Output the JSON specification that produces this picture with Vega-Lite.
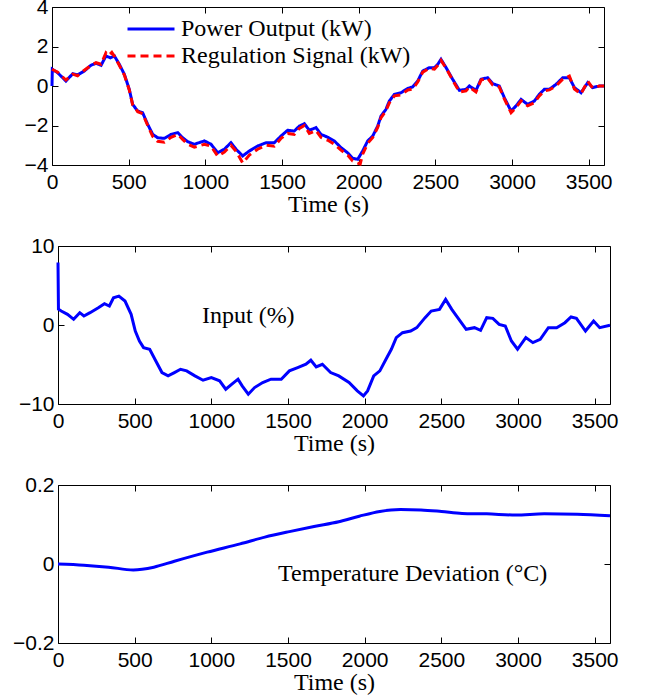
{
  "$schema": "https://vega.github.io/schema/vega-lite/v6.json",
  "background": "white",
  "padding": {"left": 0, "top": -5, "right": 0, "bottom": 0},
  "spacing": 17,
  "config": {
    "view": {"stroke": "black", "strokeWidth": 1},
    "axis": {
      "labelFont": "Liberation Sans", "labelFontSize": 21, "labelColor": "black",
      "titleFont": "Liberation Serif", "titleFontSize": 24, "titleFontWeight": "normal", "titleColor": "black",
      "grid": false, "domain": false, "tickColor": "black", "tickSize": -6, "tickWidth": 1, "labelFlush": false
    },
    "axisX": {"labelPadding": 12, "titlePadding": 0, "format": "d"},
    "axisY": {"labelPadding": 10},
    "line": {"strokeCap": "butt"}
  },
  "datasets": {
    "power": [
      {"t":0,"series":"Power Output (kW)","v":0},{"t":2,"series":"Power Output (kW)","v":0.85},{"t":37,"series":"Power Output (kW)","v":0.67},{"t":91,"series":"Power Output (kW)","v":0.25},{"t":135,"series":"Power Output (kW)","v":0.62},{"t":167,"series":"Power Output (kW)","v":0.56},{"t":211,"series":"Power Output (kW)","v":0.76},{"t":254,"series":"Power Output (kW)","v":1.05},{"t":287,"series":"Power Output (kW)","v":1.15},{"t":320,"series":"Power Output (kW)","v":1.05},{"t":352,"series":"Power Output (kW)","v":1.52},{"t":381,"series":"Power Output (kW)","v":1.43},{"t":407,"series":"Power Output (kW)","v":1.52},{"t":439,"series":"Power Output (kW)","v":1.10},{"t":472,"series":"Power Output (kW)","v":0.59},{"t":504,"series":"Power Output (kW)","v":-0.17},{"t":526,"series":"Power Output (kW)","v":-0.93},{"t":559,"series":"Power Output (kW)","v":-1.27},{"t":591,"series":"Power Output (kW)","v":-1.35},{"t":624,"series":"Power Output (kW)","v":-1.94},{"t":657,"series":"Power Output (kW)","v":-2.45},{"t":689,"series":"Power Output (kW)","v":-2.62},{"t":733,"series":"Power Output (kW)","v":-2.65},{"t":776,"series":"Power Output (kW)","v":-2.45},{"t":820,"series":"Power Output (kW)","v":-2.36},{"t":852,"series":"Power Output (kW)","v":-2.62},{"t":885,"series":"Power Output (kW)","v":-2.82},{"t":928,"series":"Power Output (kW)","v":-2.95},{"t":994,"series":"Power Output (kW)","v":-2.78},{"t":1037,"series":"Power Output (kW)","v":-2.95},{"t":1081,"series":"Power Output (kW)","v":-3.38},{"t":1124,"series":"Power Output (kW)","v":-3.2},{"t":1167,"series":"Power Output (kW)","v":-2.87},{"t":1200,"series":"Power Output (kW)","v":-3.2},{"t":1244,"series":"Power Output (kW)","v":-3.54},{"t":1287,"series":"Power Output (kW)","v":-3.29},{"t":1341,"series":"Power Output (kW)","v":-3.04},{"t":1396,"series":"Power Output (kW)","v":-2.87},{"t":1450,"series":"Power Output (kW)","v":-2.87},{"t":1494,"series":"Power Output (kW)","v":-2.53},{"t":1537,"series":"Power Output (kW)","v":-2.24},{"t":1580,"series":"Power Output (kW)","v":-2.28},{"t":1613,"series":"Power Output (kW)","v":-2.03},{"t":1646,"series":"Power Output (kW)","v":-1.91},{"t":1678,"series":"Power Output (kW)","v":-2.24},{"t":1722,"series":"Power Output (kW)","v":-2.11},{"t":1754,"series":"Power Output (kW)","v":-2.45},{"t":1800,"series":"Power Output (kW)","v":-2.6},{"t":1841,"series":"Power Output (kW)","v":-2.78},{"t":1885,"series":"Power Output (kW)","v":-3.12},{"t":1928,"series":"Power Output (kW)","v":-3.38},{"t":1961,"series":"Power Output (kW)","v":-3.66},{"t":1994,"series":"Power Output (kW)","v":-3.71},{"t":2026,"series":"Power Output (kW)","v":-3.29},{"t":2059,"series":"Power Output (kW)","v":-2.78},{"t":2092,"series":"Power Output (kW)","v":-2.53},{"t":2124,"series":"Power Output (kW)","v":-2.03},{"t":2146,"series":"Power Output (kW)","v":-1.52},{"t":2178,"series":"Power Output (kW)","v":-1.18},{"t":2200,"series":"Power Output (kW)","v":-0.76},{"t":2233,"series":"Power Output (kW)","v":-0.42},{"t":2276,"series":"Power Output (kW)","v":-0.34},{"t":2320,"series":"Power Output (kW)","v":-0.12},{"t":2352,"series":"Power Output (kW)","v":-0.05},{"t":2385,"series":"Power Output (kW)","v":0.25},{"t":2418,"series":"Power Output (kW)","v":0.76},{"t":2461,"series":"Power Output (kW)","v":0.93},{"t":2494,"series":"Power Output (kW)","v":0.93},{"t":2516,"series":"Power Output (kW)","v":1.10},{"t":2537,"series":"Power Output (kW)","v":1.35},{"t":2570,"series":"Power Output (kW)","v":0.93},{"t":2613,"series":"Power Output (kW)","v":0.34},{"t":2657,"series":"Power Output (kW)","v":-0.22},{"t":2700,"series":"Power Output (kW)","v":-0.17},{"t":2722,"series":"Power Output (kW)","v":0},{"t":2765,"series":"Power Output (kW)","v":-0.22},{"t":2798,"series":"Power Output (kW)","v":0.34},{"t":2841,"series":"Power Output (kW)","v":0.42},{"t":2874,"series":"Power Output (kW)","v":0.12},{"t":2917,"series":"Power Output (kW)","v":0},{"t":2950,"series":"Power Output (kW)","v":-0.59},{"t":2994,"series":"Power Output (kW)","v":-1.27},{"t":3026,"series":"Power Output (kW)","v":-1.01},{"t":3059,"series":"Power Output (kW)","v":-0.68},{"t":3102,"series":"Power Output (kW)","v":-0.93},{"t":3146,"series":"Power Output (kW)","v":-0.76},{"t":3178,"series":"Power Output (kW)","v":-0.42},{"t":3211,"series":"Power Output (kW)","v":-0.17},{"t":3243,"series":"Power Output (kW)","v":-0.17},{"t":3287,"series":"Power Output (kW)","v":0.08},{"t":3331,"series":"Power Output (kW)","v":0.42},{"t":3374,"series":"Power Output (kW)","v":0.42},{"t":3407,"series":"Power Output (kW)","v":-0.08},{"t":3450,"series":"Power Output (kW)","v":-0.34},{"t":3494,"series":"Power Output (kW)","v":0.17},{"t":3526,"series":"Power Output (kW)","v":-0.08},{"t":3570,"series":"Power Output (kW)","v":0},{"t":3600,"series":"Power Output (kW)","v":0},
      {"t":0,"series":"Regulation Signal (kW)","v":0.85},{"t":37,"series":"Regulation Signal (kW)","v":0.7},{"t":91,"series":"Regulation Signal (kW)","v":0.3},{"t":135,"series":"Regulation Signal (kW)","v":0.6},{"t":167,"series":"Regulation Signal (kW)","v":0.52},{"t":211,"series":"Regulation Signal (kW)","v":0.8},{"t":254,"series":"Regulation Signal (kW)","v":1.05},{"t":287,"series":"Regulation Signal (kW)","v":1.18},{"t":320,"series":"Regulation Signal (kW)","v":1.1},{"t":352,"series":"Regulation Signal (kW)","v":1.68},{"t":370,"series":"Regulation Signal (kW)","v":1.55},{"t":390,"series":"Regulation Signal (kW)","v":1.7},{"t":407,"series":"Regulation Signal (kW)","v":1.5},{"t":439,"series":"Regulation Signal (kW)","v":1.05},{"t":472,"series":"Regulation Signal (kW)","v":0.55},{"t":504,"series":"Regulation Signal (kW)","v":-0.2},{"t":526,"series":"Regulation Signal (kW)","v":-0.95},{"t":559,"series":"Regulation Signal (kW)","v":-1.3},{"t":591,"series":"Regulation Signal (kW)","v":-1.4},{"t":624,"series":"Regulation Signal (kW)","v":-2.0},{"t":657,"series":"Regulation Signal (kW)","v":-2.55},{"t":689,"series":"Regulation Signal (kW)","v":-2.8},{"t":733,"series":"Regulation Signal (kW)","v":-2.85},{"t":776,"series":"Regulation Signal (kW)","v":-2.6},{"t":820,"series":"Regulation Signal (kW)","v":-2.45},{"t":852,"series":"Regulation Signal (kW)","v":-2.7},{"t":885,"series":"Regulation Signal (kW)","v":-2.95},{"t":928,"series":"Regulation Signal (kW)","v":-3.1},{"t":994,"series":"Regulation Signal (kW)","v":-2.95},{"t":1037,"series":"Regulation Signal (kW)","v":-3.05},{"t":1081,"series":"Regulation Signal (kW)","v":-3.55},{"t":1124,"series":"Regulation Signal (kW)","v":-3.35},{"t":1167,"series":"Regulation Signal (kW)","v":-3.0},{"t":1200,"series":"Regulation Signal (kW)","v":-3.3},{"t":1244,"series":"Regulation Signal (kW)","v":-3.9},{"t":1287,"series":"Regulation Signal (kW)","v":-3.5},{"t":1341,"series":"Regulation Signal (kW)","v":-3.2},{"t":1396,"series":"Regulation Signal (kW)","v":-3.0},{"t":1450,"series":"Regulation Signal (kW)","v":-3.05},{"t":1494,"series":"Regulation Signal (kW)","v":-2.65},{"t":1537,"series":"Regulation Signal (kW)","v":-2.4},{"t":1580,"series":"Regulation Signal (kW)","v":-2.45},{"t":1613,"series":"Regulation Signal (kW)","v":-2.15},{"t":1646,"series":"Regulation Signal (kW)","v":-2.0},{"t":1678,"series":"Regulation Signal (kW)","v":-2.4},{"t":1722,"series":"Regulation Signal (kW)","v":-2.25},{"t":1754,"series":"Regulation Signal (kW)","v":-2.6},{"t":1800,"series":"Regulation Signal (kW)","v":-2.75},{"t":1841,"series":"Regulation Signal (kW)","v":-2.95},{"t":1885,"series":"Regulation Signal (kW)","v":-3.25},{"t":1928,"series":"Regulation Signal (kW)","v":-3.5},{"t":1961,"series":"Regulation Signal (kW)","v":-3.8},{"t":1994,"series":"Regulation Signal (kW)","v":-3.9},{"t":2010,"series":"Regulation Signal (kW)","v":-3.95},{"t":2026,"series":"Regulation Signal (kW)","v":-3.45},{"t":2059,"series":"Regulation Signal (kW)","v":-2.9},{"t":2092,"series":"Regulation Signal (kW)","v":-2.6},{"t":2124,"series":"Regulation Signal (kW)","v":-2.1},{"t":2146,"series":"Regulation Signal (kW)","v":-1.6},{"t":2178,"series":"Regulation Signal (kW)","v":-1.25},{"t":2200,"series":"Regulation Signal (kW)","v":-0.85},{"t":2233,"series":"Regulation Signal (kW)","v":-0.5},{"t":2276,"series":"Regulation Signal (kW)","v":-0.45},{"t":2320,"series":"Regulation Signal (kW)","v":-0.2},{"t":2352,"series":"Regulation Signal (kW)","v":-0.15},{"t":2385,"series":"Regulation Signal (kW)","v":0.2},{"t":2418,"series":"Regulation Signal (kW)","v":0.7},{"t":2461,"series":"Regulation Signal (kW)","v":0.9},{"t":2494,"series":"Regulation Signal (kW)","v":0.85},{"t":2516,"series":"Regulation Signal (kW)","v":1.05},{"t":2537,"series":"Regulation Signal (kW)","v":1.3},{"t":2570,"series":"Regulation Signal (kW)","v":0.9},{"t":2613,"series":"Regulation Signal (kW)","v":0.3},{"t":2657,"series":"Regulation Signal (kW)","v":-0.3},{"t":2700,"series":"Regulation Signal (kW)","v":-0.25},{"t":2722,"series":"Regulation Signal (kW)","v":-0.05},{"t":2765,"series":"Regulation Signal (kW)","v":-0.3},{"t":2798,"series":"Regulation Signal (kW)","v":0.3},{"t":2841,"series":"Regulation Signal (kW)","v":0.4},{"t":2874,"series":"Regulation Signal (kW)","v":0.05},{"t":2917,"series":"Regulation Signal (kW)","v":-0.05},{"t":2950,"series":"Regulation Signal (kW)","v":-0.65},{"t":2994,"series":"Regulation Signal (kW)","v":-1.35},{"t":3026,"series":"Regulation Signal (kW)","v":-1.1},{"t":3059,"series":"Regulation Signal (kW)","v":-0.75},{"t":3102,"series":"Regulation Signal (kW)","v":-1.0},{"t":3146,"series":"Regulation Signal (kW)","v":-0.85},{"t":3178,"series":"Regulation Signal (kW)","v":-0.5},{"t":3211,"series":"Regulation Signal (kW)","v":-0.25},{"t":3243,"series":"Regulation Signal (kW)","v":-0.2},{"t":3287,"series":"Regulation Signal (kW)","v":0.0},{"t":3331,"series":"Regulation Signal (kW)","v":0.35},{"t":3374,"series":"Regulation Signal (kW)","v":0.5},{"t":3407,"series":"Regulation Signal (kW)","v":-0.15},{"t":3450,"series":"Regulation Signal (kW)","v":-0.4},{"t":3494,"series":"Regulation Signal (kW)","v":0.25},{"t":3526,"series":"Regulation Signal (kW)","v":-0.1},{"t":3570,"series":"Regulation Signal (kW)","v":0.0},{"t":3600,"series":"Regulation Signal (kW)","v":0.0}
    ],
    "input": [
      {"t":0,"v":7.9},{"t":3,"v":2.0},{"t":21,"v":1.77},{"t":62,"v":1.35},{"t":102,"v":0.72},{"t":142,"v":1.56},{"t":169,"v":1.14},{"t":209,"v":1.56},{"t":263,"v":2.19},{"t":303,"v":2.69},{"t":335,"v":2.4},{"t":362,"v":3.45},{"t":397,"v":3.66},{"t":437,"v":3.03},{"t":477,"v":1.35},{"t":504,"v":-0.76},{"t":531,"v":-2.02},{"t":558,"v":-2.86},{"t":598,"v":-3.07},{"t":638,"v":-4.55},{"t":678,"v":-6.02},{"t":718,"v":-6.44},{"t":759,"v":-6.02},{"t":799,"v":-5.6},{"t":839,"v":-5.81},{"t":893,"v":-6.44},{"t":946,"v":-6.99},{"t":1000,"v":-6.65},{"t":1054,"v":-7.07},{"t":1094,"v":-8.13},{"t":1134,"v":-7.49},{"t":1174,"v":-6.86},{"t":1201,"v":-7.71},{"t":1241,"v":-8.76},{"t":1282,"v":-7.92},{"t":1335,"v":-7.28},{"t":1389,"v":-6.86},{"t":1456,"v":-6.86},{"t":1509,"v":-5.81},{"t":1563,"v":-5.39},{"t":1617,"v":-4.97},{"t":1649,"v":-4.46},{"t":1684,"v":-5.31},{"t":1724,"v":-4.97},{"t":1778,"v":-6.02},{"t":1831,"v":-6.44},{"t":1898,"v":-7.28},{"t":1952,"v":-8.34},{"t":1992,"v":-8.97},{"t":2019,"v":-8.34},{"t":2059,"v":-6.44},{"t":2099,"v":-5.81},{"t":2139,"v":-4.34},{"t":2174,"v":-3.07},{"t":2206,"v":-1.6},{"t":2247,"v":-0.97},{"t":2300,"v":-0.76},{"t":2340,"v":-0.34},{"t":2394,"v":0.93},{"t":2434,"v":1.77},{"t":2488,"v":1.98},{"t":2528,"v":3.24},{"t":2568,"v":1.98},{"t":2622,"v":0.51},{"t":2662,"v":-0.55},{"t":2716,"v":-0.34},{"t":2756,"v":-0.67},{"t":2796,"v":0.93},{"t":2836,"v":0.84},{"t":2877,"v":0.08},{"t":2917,"v":-0.13},{"t":2957,"v":-2.02},{"t":2997,"v":-3.07},{"t":3051,"v":-1.6},{"t":3097,"v":-2.23},{"t":3145,"v":-1.81},{"t":3198,"v":-0.34},{"t":3252,"v":-0.34},{"t":3306,"v":0.29},{"t":3346,"v":1.01},{"t":3381,"v":0.84},{"t":3440,"v":-0.76},{"t":3493,"v":0.51},{"t":3533,"v":-0.34},{"t":3600,"v":-0.04}
    ],
    "temp": [
      {"t":0,"v":0},{"t":169,"v":-0.003},{"t":330,"v":-0.008},{"t":491,"v":-0.015},{"t":625,"v":-0.008},{"t":759,"v":0.007},{"t":973,"v":0.030},{"t":1188,"v":0.051},{"t":1349,"v":0.068},{"t":1509,"v":0.082},{"t":1670,"v":0.095},{"t":1831,"v":0.107},{"t":1965,"v":0.121},{"t":2099,"v":0.133},{"t":2233,"v":0.138},{"t":2367,"v":0.137},{"t":2501,"v":0.133},{"t":2635,"v":0.128},{"t":2796,"v":0.127},{"t":2984,"v":0.124},{"t":3171,"v":0.127},{"t":3386,"v":0.126},{"t":3600,"v":0.122}
    ],
    "blank": [{"k": 0}]
  },
  "vconcat": [
    {
      "width": 552, "height": 158,
      "data": {"name": "power"},
      "layer": [
        {
          "mark": {"type": "line", "strokeWidth": 3},
          "encoding": {
            "x": {"field": "t", "type": "quantitative", "scale": {"domain": [0, 3600], "nice": false},
                  "axis": {"values": [0,500,1000,1500,2000,2500,3000,3500], "title": "Time (s)"}},
            "y": {"field": "v", "type": "quantitative", "scale": {"domain": [-4, 4], "nice": false},
                  "axis": {"values": [-4,-2,0,2,4], "title": null, "minExtent": 51, "maxExtent": 51}},
            "color": {"field": "series", "type": "nominal",
                      "scale": {"domain": ["Power Output (kW)", "Regulation Signal (kW)"], "range": ["#0000ff", "#ff0000"]},
                      "legend": {"orient": "none", "legendX": 87, "legendY": 10, "title": null, "symbolType": "M-2.35,0H2.35", "symbolSize": 400, "symbolStrokeWidth": 3, "symbolFillColor": "transparent", "labelFont": "Liberation Serif", "labelFontSize": 24, "labelColor": "black", "labelOffset": 18, "labelLimit": 0, "rowPadding": 3, "padding": 0}},
            "strokeDash": {"field": "series", "type": "nominal",
                      "scale": {"domain": ["Power Output (kW)", "Regulation Signal (kW)"], "range": [[1, 0], [8, 5]]},
                      "legend": {"orient": "none", "legendX": 87, "legendY": 10, "title": null, "symbolType": "M-2.35,0H2.35", "symbolSize": 400, "symbolStrokeWidth": 3, "symbolFillColor": "transparent", "labelFont": "Liberation Serif", "labelFontSize": 24, "labelColor": "black", "labelOffset": 18, "labelLimit": 0, "rowPadding": 3, "padding": 0}}
          }
        },
        {
          "mark": {"type": "line", "opacity": 0},
          "encoding": {
            "x": {"field": "t", "type": "quantitative", "axis": {"orient": "top", "values": [0,500,1000,1500,2000,2500,3000,3500], "labels": false, "title": null}},
            "y": {"field": "v", "type": "quantitative", "axis": {"orient": "right", "values": [-4,-2,0,2,4], "labels": false, "title": null}}
          }
        }
      ],
      "resolve": {"axis": {"x": "independent", "y": "independent"}}
    },
    {"hconcat": [
    {
      "width": 6, "height": 158, "view": {"stroke": null},
      "data": {"name": "blank"},
      "mark": {"type": "point", "opacity": 0},
      "encoding": {}
    },
    {
      "width": 552, "height": 158,
      "layer": [
        {
          "data": {"name": "input"},
          "mark": {"type": "line", "strokeWidth": 3, "color": "#0000ff"},
          "encoding": {
            "x": {"field": "t", "type": "quantitative", "scale": {"domain": [0, 3600], "nice": false},
                  "axis": {"values": [0,500,1000,1500,2000,2500,3000,3500], "title": "Time (s)"}},
            "y": {"field": "v", "type": "quantitative", "scale": {"domain": [-10, 10], "nice": false},
                  "axis": {"values": [-10,0,10], "title": null}}
          }
        },
        {
          "data": {"name": "input"},
          "mark": {"type": "line", "opacity": 0},
          "encoding": {
            "x": {"field": "t", "type": "quantitative", "axis": {"orient": "top", "values": [0,500,1000,1500,2000,2500,3000,3500], "labels": false, "title": null}},
            "y": {"field": "v", "type": "quantitative", "axis": {"orient": "right", "values": [-10,0,10], "labels": false, "title": null}}
          }
        },
        {
          "data": {"values": [{}]},
          "mark": {"type": "text", "font": "Liberation Serif", "fontSize": 24, "color": "black", "align": "center", "baseline": "middle"},
          "encoding": {
            "x": {"datum": 1241, "type": "quantitative", "axis": null},
            "y": {"datum": 1.1, "type": "quantitative", "axis": null},
            "text": {"value": "Input (%)"}
          }
        }
      ],
      "resolve": {"axis": {"x": "independent", "y": "independent"}}
    }], "spacing": 0, "bounds": "flush"},
    {"hconcat": [
    {
      "width": 6, "height": 158, "view": {"stroke": null},
      "data": {"name": "blank"},
      "mark": {"type": "point", "opacity": 0},
      "encoding": {}
    },
    {
      "width": 552, "height": 158,
      "layer": [
        {
          "data": {"name": "temp"},
          "mark": {"type": "line", "strokeWidth": 3, "color": "#0000ff", "interpolate": "monotone"},
          "encoding": {
            "x": {"field": "t", "type": "quantitative", "scale": {"domain": [0, 3600], "nice": false},
                  "axis": {"values": [0,500,1000,1500,2000,2500,3000,3500], "title": "Time (s)"}},
            "y": {"field": "v", "type": "quantitative", "scale": {"domain": [-0.2, 0.2], "nice": false},
                  "axis": {"values": [-0.2,0,0.2], "title": null, "format": "~g"}}
          }
        },
        {
          "data": {"name": "temp"},
          "mark": {"type": "line", "opacity": 0},
          "encoding": {
            "x": {"field": "t", "type": "quantitative", "axis": {"orient": "top", "values": [0,500,1000,1500,2000,2500,3000,3500], "labels": false, "title": null}},
            "y": {"field": "v", "type": "quantitative", "axis": {"orient": "right", "values": [-0.2,0,0.2], "labels": false, "title": null}}
          }
        },
        {
          "data": {"values": [{}]},
          "mark": {"type": "text", "font": "Liberation Serif", "fontSize": 24, "color": "black", "align": "center", "baseline": "middle"},
          "encoding": {
            "x": {"datum": 2313, "type": "quantitative", "axis": null},
            "y": {"datum": -0.025, "type": "quantitative", "axis": null},
            "text": {"value": "Temperature Deviation (°C)"}
          }
        }
      ],
      "resolve": {"axis": {"x": "independent", "y": "independent"}}
    }], "spacing": 0, "bounds": "flush"}
  ]
}
